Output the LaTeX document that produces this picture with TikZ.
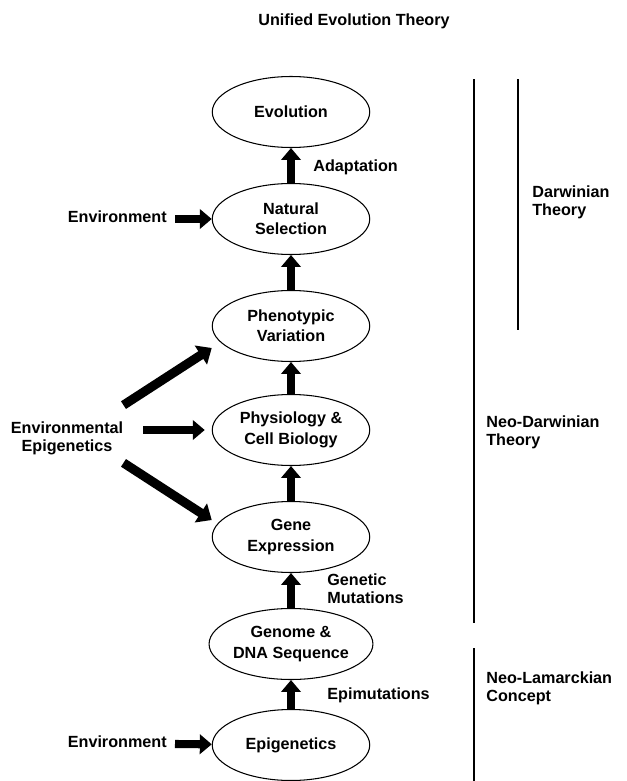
\documentclass[tikz,border=0pt]{standalone}
\usepackage{fontspec}
\setmainfont{Liberation Sans}
\usetikzlibrary{calc, arrows.meta, positioning, shapes.geometric}
\tikzset{
  stage/.style={ellipse,draw,line width=0.6pt,minimum width=3.15cm,minimum height=1.42cm,inner sep=0pt,align=center,font=\bfseries\fontsize{9.2}{11.6}\selectfont},
  lbl/.style={inner sep=0pt,align=left,font=\bfseries\fontsize{9.2}{10.2}\selectfont},
  blockarrow/.style={-{Triangle[length=6.8pt,width=11pt]}, line width=4.6pt},
  diagarrow/.style={-{Triangle[length=7.4pt,width=12.5pt]}, line width=5.2pt},
  theoryline/.style={line width=1.7pt}
}

\begin{document}
\begin{tikzpicture}[x=0.02cm,y=-0.02cm]
  \useasboundingbox (0,0) rectangle (626,781);
  \node[lbl] (title) at (354,21) {Unified Evolution Theory};
  % main chain
  \node[stage] (evo) at (291,112) {Evolution};
  \node[stage] (natsel) at (291,219) {Natural\\Selection};
  \node[stage] (phen) at (291,326) {Phenotypic\\Variation};
  \node[stage] (phys) at (291,430) {Physiology \&\\Cell Biology};
  \node[stage] (gene) at (291,537) {Gene\\Expression};
  \node[stage] (genome) at (291,644) {Genome \&\\DNA Sequence};
  \node[stage] (epi) at (291,745) {Epigenetics};
  \draw[blockarrow] (natsel) -- (evo);
  \draw[blockarrow] (phen) -- (natsel);
  \draw[blockarrow] (phys) -- (phen);
  \draw[blockarrow] (gene) -- (phys);
  \draw[blockarrow] (genome) -- (gene);
  \draw[blockarrow] (epi) -- (genome);
  \node[lbl, anchor=west] (adapt) at (313,167) {Adaptation};
  \node[lbl, anchor=west] (genmut) at (327,589) {Genetic\\Mutations};
  \node[lbl, anchor=west] (epimut) at (327,695) {Epimutations};
  % inputs from the left
  \node[lbl, anchor=east] (envtop) at (167,217) {Environment};
  \draw[blockarrow] ($(envtop.east)+(8,2)$) -- (natsel);
  \node[lbl, anchor=east] (envbot) at (167,742) {Environment};
  \draw[blockarrow] ($(envbot.east)+(8,2)$) -- (epi);
  \node[lbl, align=center] (envepi) at (67,438) {Environmental\\Epigenetics};
  \draw[diagarrow] ($(envepi.north east)+(0,-16)$) -- ($(phen.west)+(0,22)$);
  \draw[blockarrow] ($(envepi.east)+(20,-8)$) -- ($(phys.west)+(-7,0)$);
  \draw[diagarrow] ($(envepi.south east)+(0,8)$) -- ($(gene.west)+(0,-17)$);
  % theory brackets
  \draw[theoryline] (474,79) -- (474,623);
  \draw[theoryline] (518,79) -- (518,330);
  \draw[theoryline] (474,648) -- (474,781);
  \node[lbl, anchor=west] (darw) at (532,202) {Darwinian\\Theory};
  \node[lbl, anchor=west] (neodarw) at (486,432) {Neo-Darwinian\\Theory};
  \node[lbl, anchor=west] (neolam) at (486,688) {Neo-Lamarckian\\Concept};
\end{tikzpicture}
\end{document}
